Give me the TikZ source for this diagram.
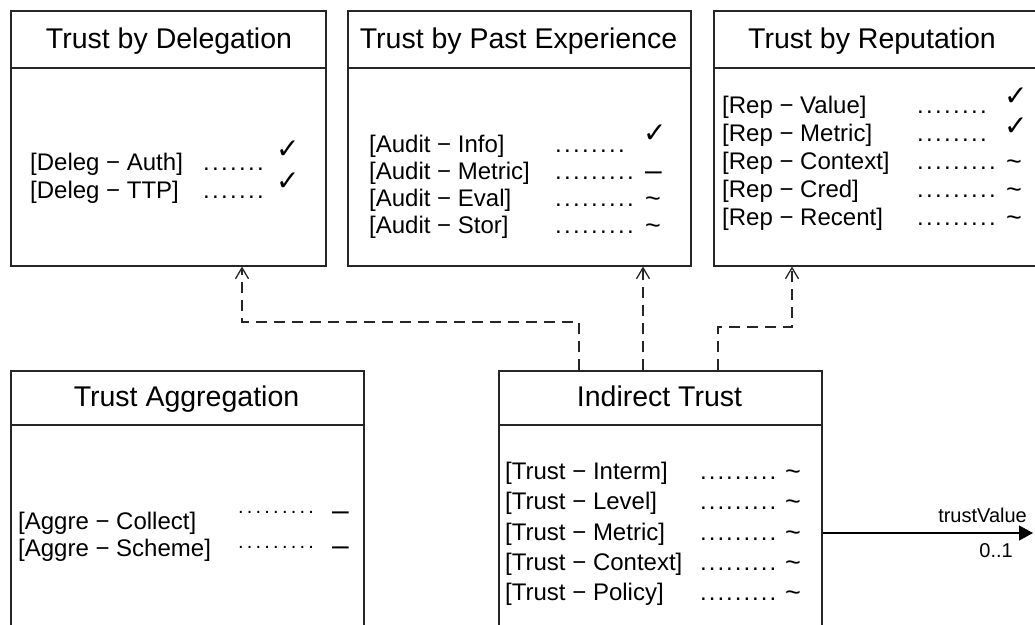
\documentclass[tikz,border=0pt]{standalone}
\usepackage{fontspec}
\setmainfont{Liberation Sans}
\newfontfamily\symf{DejaVu Sans}
\usetikzlibrary{arrows.meta}
\newcommand\lead[2]{\foreach \i in {1,...,#1}{.\kern#2}}
\begin{document}
\begin{tikzpicture}[x=1pt,y=-1pt,
  box/.style={draw=black!85,line width=1.5pt,anchor=north west,inner sep=0pt},
  hline/.style={draw=black!85,line width=1.5pt},
  ttl/.style={anchor=base,inner sep=0pt,font=\fontsize{28.5}{34}\selectfont},
  lbl/.style={anchor=base west,inner sep=0pt,font=\fontsize{24}{29}\selectfont},
  tld/.style={anchor=base west,inner sep=0pt,font=\fontsize{27}{31}\selectfont},
  chk/.style={anchor=base west,inner sep=0pt,font=\symf\fontsize{28}{32}\selectfont},
  dsh/.style={anchor=base west,inner sep=0pt,font=\fontsize{30}{34}\selectfont},
  dep/.style={draw=black!85,line width=1.3pt,dash pattern=on 11pt off 7pt,-{Straight Barb[length=11pt,width=13pt,line width=1.3pt]}},
  assoc/.style={draw=black,line width=1.3pt,-{Triangle[length=14pt,width=15pt]}},
  small/.style={inner sep=0pt,font=\fontsize{20}{24}\selectfont}]
\useasboundingbox (0,0) rectangle (1035,624);
\fill[white] (0,0) rectangle (1035,624);
\clip (0,0) rectangle (1035,624);

% boxes
\node[box,minimum width=315pt,minimum height=255pt] (deleg) at (10,10) {};
\node[box,minimum width=343pt,minimum height=255pt] (past) at (347,10) {};
\node[box,minimum width=330pt,minimum height=255pt] (rep) at (713,10) {};
\node[box,minimum width=353pt,minimum height=270pt] (aggr) at (10,370) {};
\node[box,minimum width=323pt,minimum height=270pt] (ind) at (498,370) {};

% header lines
\draw[hline] ([yshift=-58pt]deleg.north west) -- ([yshift=-58pt]deleg.north east);
\draw[hline] ([yshift=-58pt]past.north west) -- ([yshift=-58pt]past.north east);
\draw[hline] ([yshift=-58pt]rep.north west) -- ([yshift=-58pt]rep.north east);
\draw[hline] ([yshift=-55pt]aggr.north west) -- ([yshift=-55pt]aggr.north east);
\draw[hline] ([yshift=-55pt]ind.north west) -- ([yshift=-55pt]ind.north east);

% titles
\node[ttl] (delegT) at (169,48) {Trust by Delegation};
\node[ttl] (pastT) at (518.5,48) {Trust by Past Experience};
\node[ttl] (repT) at (872,48) {Trust by Reputation};
\node[ttl] (aggrT) at (186.5,406) {Trust Aggregation};
\node[ttl] (indT) at (659.5,406) {Indirect Trust};

% Delegation rows
\node[lbl] (d1) at (30,170) {[Deleg − Auth]};
\node[lbl] (d1x) at (203,170) {\lead{7}{2.33pt}};
\node[chk] (d1c) at (276,158) {✓};
\node[lbl] (d2) at (30,198) {[Deleg − TTP]};
\node[lbl] (d2x) at (203,198) {\lead{7}{2.33pt}};
\node[chk] (d2c) at (276,190) {✓};

% Past experience rows
\node[lbl] (p1) at (369,152) {[Audit − Info]};
\node[lbl] (p1x) at (555,152) {\lead{8}{2.33pt}};
\node[chk] (p1c) at (643,142) {✓};
\node[lbl] (p2) at (369,179) {[Audit − Metric]};
\node[lbl] (p2x) at (555,179) {\lead{9}{2.33pt}};
\node[dsh] (p2c) at (645,180) {–};
\node[lbl] (p3) at (369,206) {[Audit − Eval]};
\node[lbl] (p3x) at (555,206) {\lead{9}{2.33pt}};
\node[tld] (p3c) at (645,207) {\textasciitilde};
\node[lbl] (p4) at (369,233) {[Audit − Stor]};
\node[lbl] (p4x) at (555,233) {\lead{9}{2.33pt}};
\node[tld] (p4c) at (645,234) {\textasciitilde};

% Reputation rows
\node[lbl] (r1) at (722,113) {[Rep − Value]};
\node[lbl] (r1x) at (917,113) {\lead{8}{2.33pt}};
\node[chk] (r1c) at (1004,105) {✓};
\node[lbl] (r2) at (722,141) {[Rep − Metric]};
\node[lbl] (r2x) at (917,141) {\lead{8}{2.33pt}};
\node[chk] (r2c) at (1004,135) {✓};
\node[lbl] (r3) at (722,169) {[Rep − Context]};
\node[lbl] (r3x) at (917,169) {\lead{9}{2.33pt}};
\node[tld] (r3c) at (1006,170) {\textasciitilde};
\node[lbl] (r4) at (722,197) {[Rep − Cred]};
\node[lbl] (r4x) at (917,197) {\lead{9}{2.33pt}};
\node[tld] (r4c) at (1006,198) {\textasciitilde};
\node[lbl] (r5) at (722,225) {[Rep − Recent]};
\node[lbl] (r5x) at (917,225) {\lead{9}{2.33pt}};
\node[tld] (r5c) at (1006,226) {\textasciitilde};

% Aggregation rows
\node[lbl] (a1) at (18,529) {[Aggre − Collect]};
\node[lbl,font=\fontsize{20}{24}\selectfont] (a1x) at (238,513) {\lead{9}{3.2pt}};
\node[dsh] (a1c) at (332,520) {–};
\node[lbl] (a2) at (18,556) {[Aggre − Scheme]};
\node[lbl,font=\fontsize{20}{24}\selectfont] (a2x) at (238,548) {\lead{9}{3.2pt}};
\node[dsh] (a2c) at (332,555) {–};

% Indirect trust rows
\node[lbl] (i1) at (505,479) {[Trust − Interm]};
\node[lbl] (i1x) at (700,479) {\lead{9}{2.0pt}};
\node[tld] (i1c) at (785,480) {\textasciitilde};
\node[lbl] (i2) at (505,509.5) {[Trust − Level]};
\node[lbl] (i2x) at (700,509.5) {\lead{9}{2.0pt}};
\node[tld] (i2c) at (785,510.5) {\textasciitilde};
\node[lbl] (i3) at (505,540) {[Trust − Metric]};
\node[lbl] (i3x) at (700,540) {\lead{9}{2.0pt}};
\node[tld] (i3c) at (785,541) {\textasciitilde};
\node[lbl] (i4) at (505,570) {[Trust − Context]};
\node[lbl] (i4x) at (700,570) {\lead{9}{2.0pt}};
\node[tld] (i4c) at (785,571) {\textasciitilde};
\node[lbl] (i5) at (505,600) {[Trust − Policy]};
\node[lbl] (i5x) at (700,600) {\lead{9}{2.0pt}};
\node[tld] (i5c) at (785,601) {\textasciitilde};

% dependency connectors
\draw[dep] ([xshift=81pt]ind.north west) -- ++(0,-48) -| ([xshift=232pt]deleg.south west);
\draw[dep] ([xshift=145pt]ind.north west) -- ([xshift=296pt]past.south west);
\draw[dep] ([xshift=220pt]ind.north west) -- ++(0,-43) -| ([xshift=79pt]rep.south west);

% association arrow
\coordinate (tv) at (1033,533);
\draw[assoc] ([yshift=-163pt]ind.north east) -- (tv);
\node[small,anchor=base east] (tvl) at (1027,522) {trustValue};
\node[small,anchor=base east] (tvm) at (1013,557) {0..1};
\end{tikzpicture}
\end{document}
